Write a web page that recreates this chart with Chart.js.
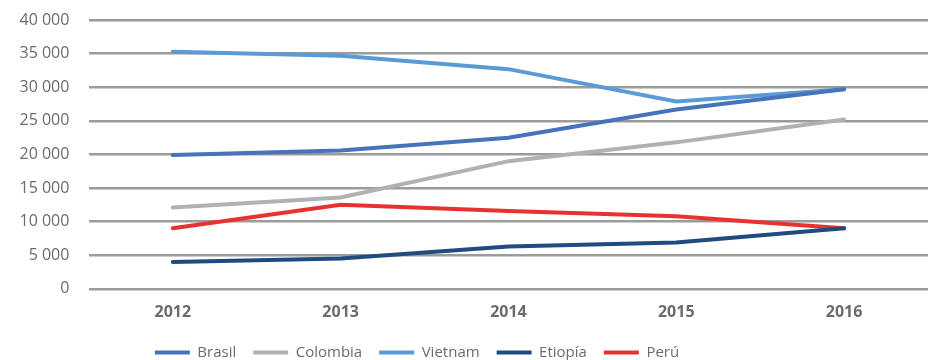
<!DOCTYPE html>
<html>
<head>
<meta charset="utf-8">
<script src="https://cdn.jsdelivr.net/npm/chart.js@4"></script>
<style>
  html, body { margin: 0; padding: 0; background: #fff; }
  #wrap { width: 928px; height: 360px; overflow: hidden; position: relative; }
  #inner { position: absolute; left: 0; top: -9px; width: 928px; height: 379px; }
</style>
</head>
<body>
<div id="wrap"><div id="inner"><canvas id="c"></canvas></div></div>
<script>
  // Data
  const years    = ['2012', '2013', '2014', '2015', '2016'];
  const brasil   = [19900, 20600, 22500, 26700, 29700];
  const colombia = [12100, 13600, 19000, 21800, 25200];
  const vietnam  = [35300, 34700, 32700, 27900, 29700];
  const etiopia  = [4000, 4500, 6300, 6900, 9000];
  const peru     = [9000, 12500, 11600, 10800, 9000];

  function fmt(v) {
    return String(v).replace(/\B(?=(\d{3})+(?!\d))/g, ' ');
  }

  function series(label, data, color) {
    return {
      label: label,
      data: data,
      borderColor: color,
      backgroundColor: color,
      borderWidth: 4,
      pointRadius: 0,
      tension: 0,
      borderCapStyle: 'round'
    };
  }

  // Legend in the original sits a bit left of centre
  const legendShift = {
    id: 'legendShift',
    afterLayout: function (chart) {
      if (chart.legend) chart.legend.right -= 94;
    }
  };

  Chart.defaults.font.family = "'Open Sans', sans-serif";
  Chart.defaults.font.size = 16;
  Chart.defaults.color = '#6b6b6b';

  new Chart(document.getElementById('c'), {
    type: 'line',
    data: {
      labels: years,
      datasets: [
        series('Brasil', brasil, '#4673b9'),
        series('Colombia', colombia, '#b1b1b1'),
        series('Vietnam', vietnam, '#5b9bd5'),
        series('Etiopía', etiopia, '#1f4b7f'),
        series('Perú', peru, '#e83232')
      ]
    },
    plugins: [legendShift],
    options: {
      responsive: true,
      maintainAspectRatio: false,
      animation: false,
      layout: { padding: 0 },
      plugins: {
        tooltip: { enabled: false },
        legend: {
          position: 'bottom',
          labels: {
            boxWidth: 35,
            boxHeight: 4,
            padding: 17,
            font: { size: 15 },
            generateLabels: function (chart) {
              return chart.data.datasets.map(function (ds, i) {
                return {
                  text: ds.label,
                  fillStyle: ds.borderColor,
                  strokeStyle: ds.borderColor,
                  lineWidth: 0,
                  fontColor: '#6b6b6b',
                  datasetIndex: i
                };
              });
            }
          }
        }
      },
      scales: {
        x: {
          offset: true,
          grid: { display: false },
          border: { display: false },
          ticks: { padding: 6, font: { size: 16, weight: 'bold' } }
        },
        y: {
          min: 0,
          max: 40000,
          ticks: { stepSize: 5000, padding: 19.5, callback: fmt },
          grid: { color: '#9b9b9b', lineWidth: 2.5, drawTicks: false },
          border: { display: false }
        }
      }
    }
  });
</script>
</body>
</html>
